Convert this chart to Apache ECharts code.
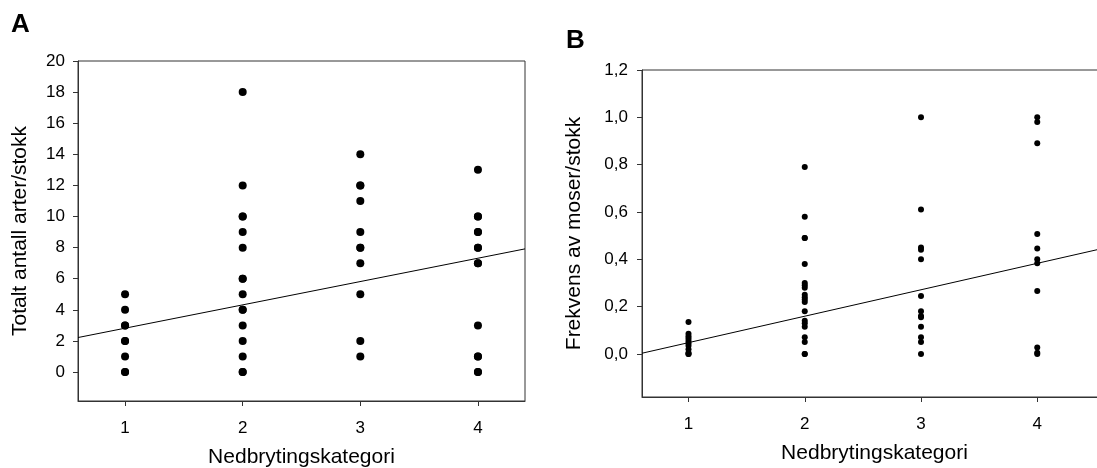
<!DOCTYPE html>
<html>
<head>
<meta charset="utf-8">
<script src="https://cdn.jsdelivr.net/npm/echarts@6/dist/echarts.min.js"></script>
<style>
html, body { margin: 0; padding: 0; background: #fff; }
#main { width: 1097px; height: 468px; }
</style>
</head>
<body>
<div id="main"></div>
<script>
// Panel A: total number of species per log, by decay category
var a1 = [0, 0, 1, 2, 2, 3, 3, 4, 5];
var a2 = [0, 0, 1, 2, 3, 4, 4, 5, 6, 6, 8, 9, 10, 10, 12, 18];
var a3 = [1, 2, 5, 7, 8, 8, 9, 11, 12, 12, 14];
var a4 = [0, 0, 1, 1, 3, 7, 7, 8, 8, 9, 9, 10, 10, 13];
var fitA = [[0.6, 2.22], [4.4, 7.92]];

// Panel B: frequency of mosses per log
var b1 = [0, 0, 0.005, 0.02, 0.035, 0.045, 0.055, 0.065, 0.075, 0.085, 0.135];
var b2 = [0, 0, 0.05, 0.07, 0.115, 0.13, 0.14, 0.18, 0.22, 0.23, 0.24, 0.25, 0.28, 0.29, 0.30, 0.38, 0.49, 0.49, 0.58, 0.79];
var b3 = [0, 0.05, 0.07, 0.115, 0.155, 0.16, 0.18, 0.245, 0.40, 0.44, 0.45, 0.61, 1.0];
var b4 = [0, 0.005, 0.027, 0.266, 0.383, 0.40, 0.446, 0.507, 0.89, 0.98, 1.0];
var fitB = [[0.6, 0.003], [4.6, 0.45]];

var xTicks = [1, 2, 3, 4];
var yTicksA = [0, 2, 4, 6, 8, 10, 12, 14, 16, 18, 20];
var yTicksB = [0, 0.2, 0.4, 0.6, 0.8, 1.0, 1.2];

function pts(x, arr) {
	return arr.map(function (v) { return [x, v]; });
}
var dataA = [].concat(pts(1, a1), pts(2, a2), pts(3, a3), pts(4, a4));
var dataB = [].concat(pts(1, b1), pts(2, b2), pts(3, b3), pts(4, b4));

var font = 'Liberation Sans, Arial, sans-serif';
var nameStyle = { fontSize: 21, color: '#000', fontFamily: font };

function xAxisFor(grid, max) {
	return {
		gridIndex: grid, type: 'value', min: 0.6, max: max,
		name: 'Nedbrytingskategori', nameLocation: 'middle', nameGap: 46,
		nameTextStyle: nameStyle,
		axisLine: { onZero: false, lineStyle: { color: '#333', width: 1 } },
		axisTick: { length: 5, lineStyle: { color: '#333' }, customValues: xTicks },
		axisLabel: { customValues: xTicks, margin: 19, fontSize: 17, color: '#000', fontFamily: font },
		splitLine: { show: false }
	};
}

var myChart = echarts.init(document.getElementById('main'));
var option = {
	animation: false,
	textStyle: { fontFamily: font },
	graphic: [
		{ type: 'text', left: 11, top: 12, style: { text: 'A', font: 'bold 26px ' + font, fill: '#000' } },
		{ type: 'text', left: 566, top: 28, style: { text: 'B', font: 'bold 26px ' + font, fill: '#000' } }
	],
	grid: [
		{ left: 78, top: 61, right: 572, bottom: 67, show: true, borderColor: '#333', borderWidth: 1,
		  containLabel: false, outerBoundsMode: 'none' },
		{ left: 642, top: 70, right: -10, bottom: 71, show: true, borderColor: '#333', borderWidth: 1,
		  containLabel: false, outerBoundsMode: 'none' }
	],
	xAxis: [xAxisFor(0, 4.4), xAxisFor(1, 4.6)],
	yAxis: [
		{
			gridIndex: 0, type: 'value', min: -1.86, max: 20,
			name: 'Totalt antall arter/stokk', nameLocation: 'middle', nameRotate: 90, nameGap: 47,
			nameTextStyle: nameStyle,
			axisLine: { show: true, onZero: false, lineStyle: { color: '#333', width: 1 } },
			axisTick: { show: true, length: 5, lineStyle: { color: '#333' }, customValues: yTicksA },
			axisLabel: { customValues: yTicksA, margin: 13, fontSize: 17, color: '#000', fontFamily: font },
			splitLine: { show: false }
		},
		{
			gridIndex: 1, type: 'value', min: -0.182, max: 1.2,
			name: 'Frekvens av moser/stokk', nameLocation: 'middle', nameRotate: 90, nameGap: 57,
			nameTextStyle: nameStyle,
			axisLine: { show: true, onZero: false, lineStyle: { color: '#333', width: 1 } },
			axisTick: { show: true, length: 5, lineStyle: { color: '#333' }, customValues: yTicksB },
			axisLabel: {
				customValues: yTicksB, margin: 14, fontSize: 17, color: '#000', fontFamily: font,
				formatter: function (v) { return v.toFixed(1).replace('.', ','); }
			},
			splitLine: { show: false }
		}
	],
	series: [
		{
			type: 'line', xAxisIndex: 0, yAxisIndex: 0, data: fitA,
			symbol: 'none', lineStyle: { color: '#000', width: 1 }, z: 1
		},
		{
			type: 'scatter', xAxisIndex: 0, yAxisIndex: 0, data: dataA,
			symbolSize: 8, itemStyle: { color: '#000', opacity: 1 }, z: 2
		},
		{
			type: 'line', xAxisIndex: 1, yAxisIndex: 1, data: fitB,
			symbol: 'none', lineStyle: { color: '#000', width: 1 }, z: 1
		},
		{
			type: 'scatter', xAxisIndex: 1, yAxisIndex: 1, data: dataB,
			symbolSize: 6, itemStyle: { color: '#000', opacity: 1 }, z: 2
		}
	]
};
myChart.setOption(option);
</script>
</body>
</html>
